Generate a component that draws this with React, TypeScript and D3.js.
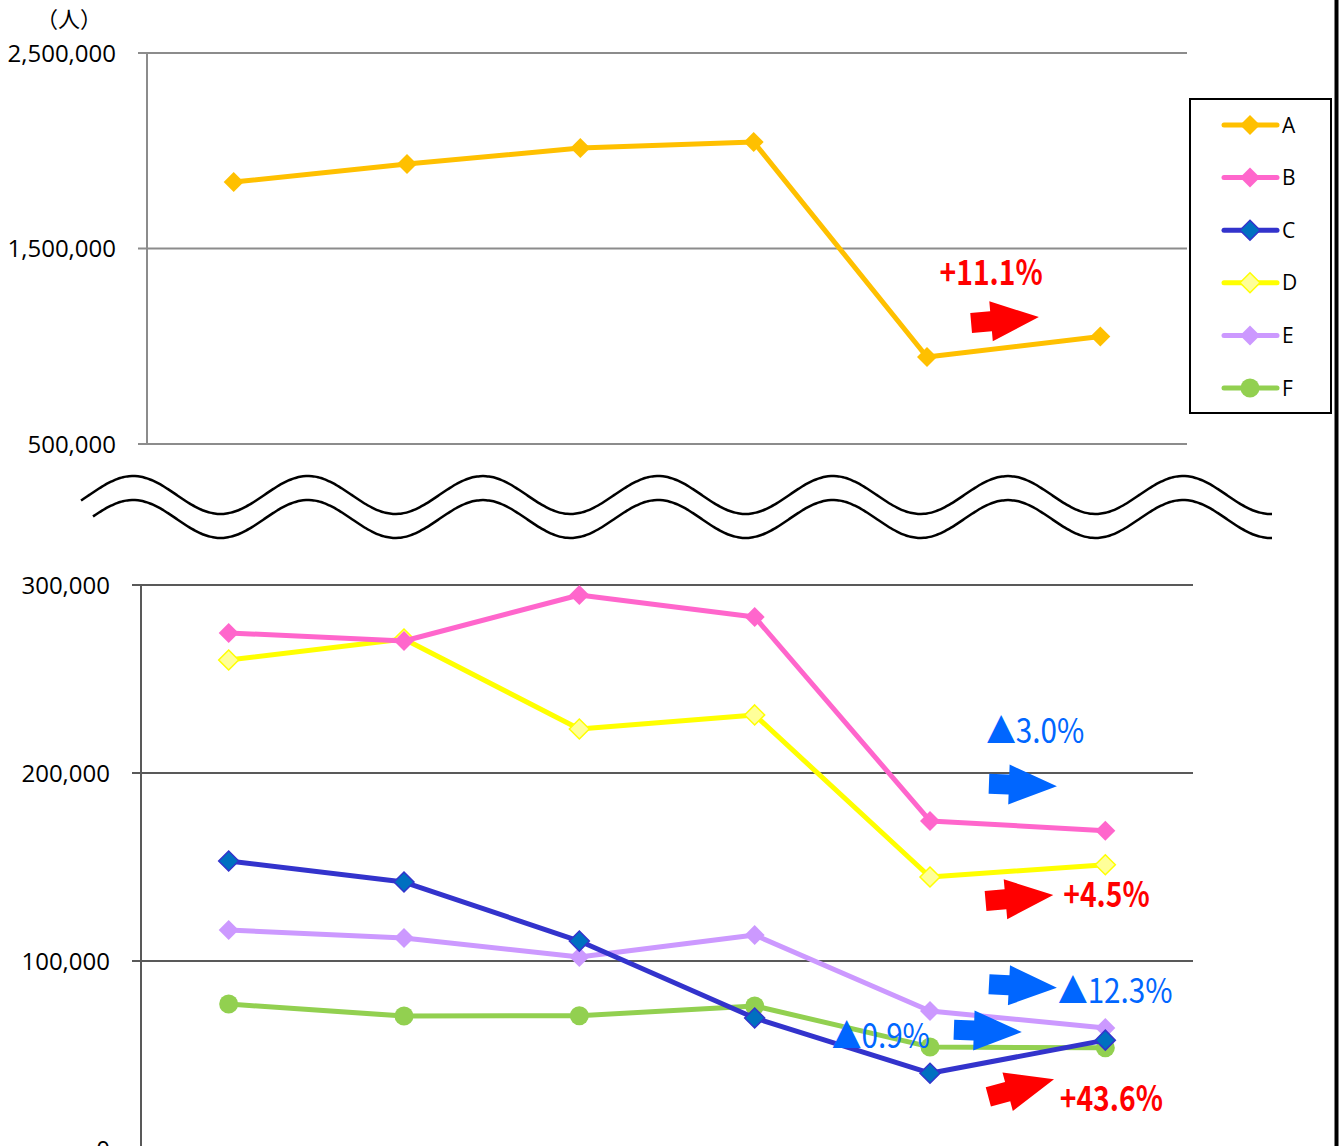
import React from "react";
import * as d3 from "d3";

// 年度ラベルは元図に無いので空のカテゴリで位置だけ持つ
const categories = ["1", "2", "3", "4", "5", "6"];

const seriesA = [1840000, 1932000, 2014000, 2045000, 945000, 1050000];
const seriesB = [274500, 270200, 294700, 283000, 174500, 169300];
const seriesC = [153200, 142000, 110600, 69700, 40300, 57900];
const seriesD = [260100, 271300, 223400, 230900, 144700, 151200];
const seriesE = [116500, 112200, 102100, 113800, 73400, 64400];
const seriesF = [77100, 70700, 70900, 76100, 54300, 53800];

const topTicks = [500000, 1500000, 2500000];
const bottomTicks = [0, 100000, 200000, 300000];

const seriesNames = ["A", "B", "C", "D", "E", "F"];

type Series = {
  name: string;
  values: number[];
  stroke: string;
  fill: string;
  markerStroke: string;
  shape: "diamond" | "circle";
};

const series: Series[] = [
  { name: "A", values: seriesA, stroke: "#FFC000", fill: "#FFC000", markerStroke: "#FFC000", shape: "diamond" },
  { name: "B", values: seriesB, stroke: "#FF66CC", fill: "#FF66CC", markerStroke: "#FF66CC", shape: "diamond" },
  { name: "C", values: seriesC, stroke: "#3333CC", fill: "#0070C0", markerStroke: "#3333CC", shape: "diamond" },
  { name: "D", values: seriesD, stroke: "#FFFF00", fill: "#FFFF99", markerStroke: "#FFFF00", shape: "diamond" },
  { name: "E", values: seriesE, stroke: "#CC99FF", fill: "#CC99FF", markerStroke: "#CC99FF", shape: "diamond" },
  { name: "F", values: seriesF, stroke: "#92D050", fill: "#92D050", markerStroke: "#92D050", shape: "circle" },
];

// annotations: pos = category index position, v = data value
const UP = "#FF0000";
const DOWN = "#0066FF";
const topNotes = [{ text: "+11.1%", pos: 4.37, v: 1313000, up: true, anchor: "middle" }];
const topArrows = [{ pos: 4.45, v: 1134000, angle: -5, up: true }];

const bottomNotes = [
  { text: "▲3.0%", pos: 4.6, v: 216000, up: false, anchor: "middle" },
  { text: "+4.5%", pos: 4.76, v: 128700, up: true, anchor: "start" },
  { text: "▲12.3%", pos: 4.73, v: 77700, up: false, anchor: "start" },
  { text: "▲0.9%", pos: 3.44, v: 53700, up: false, anchor: "start" },
  { text: "+43.6%", pos: 4.74, v: 20200, up: true, anchor: "start" },
];
const bottomArrows = [
  { pos: 4.53, v: 193600, angle: 2, up: false },
  { pos: 4.51, v: 133500, angle: -5, up: true },
  { pos: 4.53, v: 86700, angle: 3, up: false },
  { pos: 4.33, v: 62800, angle: 2, up: false },
  { pos: 4.52, v: 32400, angle: -15, up: true },
];

const W = 1341;
const H = 1146;
const font = "'Noto Sans CJK JP', 'Noto Sans', sans-serif";
const tickFont = "'Open Sans', 'Noto Sans', sans-serif";
const fmt = d3.format(",");

// block arrow pointing right, centred at origin
const arrowPath = "M-34,-10 L-14,-10 L-14,-20 L34,0 L-14,20 L-14,10 L-34,10 Z";

function Marker({ s, x, y }: { s: Series; x: number; y: number }) {
  if (s.shape === "circle") return <circle cx={x} cy={y} r={9.5} fill={s.fill} />;
  const r = 10;
  return (
    <path
      d={`M${x},${y - r} L${x + r},${y} L${x},${y + r} L${x - r},${y} Z`}
      fill={s.fill}
      stroke={s.markerStroke}
      strokeWidth={s.name === "C" || s.name === "D" ? 1.5 : 0}
    />
  );
}

function Note({ n, x, y }: { n: any; x: number; y: number }) {
  const sx = n.up ? 0.82 : 0.86;
  return (
    <text
      transform={`translate(${x},${y}) scale(${sx},1)`}
      textAnchor={n.anchor}
      fontSize={34.5}
      fontWeight={n.up ? 700 : 400}
      fill={n.up ? UP : DOWN}
    >
      {n.text}
    </text>
  );
}

export default function App() {
  const xTop = d3.scaleBand().domain(categories).range([147, 1187]);
  const yTop = d3.scaleLinear().domain([500000, 2500000]).range([444, 53]);
  const xBot = d3.scaleBand().domain(categories).range([141, 1193]);
  const yBot = d3.scaleLinear().domain([0, 300000]).range([1149, 585]);

  const cx = (sc: d3.ScaleBand<string>) => (i: number) => (sc(categories[i]) as number) + sc.bandwidth() / 2;
  const cxTop = cx(xTop);
  const cxBot = cx(xBot);
  const posTop = d3.scaleLinear().domain([0, 5]).range([cxTop(0), cxTop(5)]);
  const posBot = d3.scaleLinear().domain([0, 5]).range([cxBot(0), cxBot(5)]);

  const lineTop = d3.line<number>().x((_, i) => cxTop(i)).y((d) => yTop(d));
  const lineBot = d3.line<number>().x((_, i) => cxBot(i)).y((d) => yBot(d));

  // wavy break
  const waveX = d3.range(81, 1274, 3);
  const waveY = (x: number) => 495 - 19 * Math.cos((2 * Math.PI * (x - 133)) / 175);
  const waveLine = d3.line<number>().x((x) => x).y((x) => waveY(x)).curve(d3.curveBasis);
  const waveLow = d3.line<number>().x((x) => x).y((x) => waveY(x) + 24).curve(d3.curveBasis);
  const lowX = waveX.filter((x) => x >= 93);
  const waveFill =
    (waveLine(waveX) as string) +
    ` L1273,${waveY(1273) + 24} ` +
    (waveLow([...lowX].reverse()) as string).replace(/^M/, "L") +
    " Z";

  const topSeries = series.slice(0, 1);
  const botSeries = [series[4], series[5], series[2], series[3], series[1]];

  return (
    <svg width={W} height={H} style={{ position: "absolute", left: 0, top: 0, background: "#fff" }} fontFamily={font}>
      <rect width={W} height={H} fill="#fff" />
      <text x={69} y={27} fontSize={22} textAnchor="middle" fill="#000">（人）</text>

      {/* top panel */}
      {topTicks.map((t) => (
        <g key={t}>
          <line x1={138} x2={1187} y1={yTop(t)} y2={yTop(t)} stroke="#8C8C8C" strokeWidth={2} />
          <text x={116} y={yTop(t)} dy="0.36em" textAnchor="end" fontSize={24} fill="#000" fontFamily={tickFont}>
            {fmt(t)}
          </text>
        </g>
      ))}
      <line x1={147} x2={147} y1={53} y2={444} stroke="#8C8C8C" strokeWidth={2} />
      {topSeries.map((s) => (
        <g key={s.name}>
          <path d={lineTop(s.values) as string} fill="none" stroke={s.stroke} strokeWidth={5} strokeLinejoin="round" />
          {s.values.map((v, i) => (
            <Marker key={i} s={s} x={cxTop(i)} y={yTop(v)} />
          ))}
        </g>
      ))}
      {topArrows.map((a, i) => (
        <path key={i} d={arrowPath} fill={a.up ? UP : DOWN} transform={`translate(${posTop(a.pos)},${yTop(a.v)}) rotate(${a.angle})`} />
      ))}
      {topNotes.map((n, i) => (
        <Note key={i} n={n} x={posTop(n.pos)} y={yTop(n.v)} />
      ))}

      {/* legend */}
      <rect x={1190} y={99} width={141} height={314} fill="#fff" stroke="#000" strokeWidth={2} />
      {seriesNames.map((name, i) => {
        const s = series.find((d) => d.name === name) as Series;
        const y = 125 + i * 52.6;
        return (
          <g key={name}>
            <line x1={1224} x2={1277} y1={y} y2={y} stroke={s.stroke} strokeWidth={5} strokeLinecap="round" />
            <Marker s={s} x={1250} y={y} />
            <text x={1282} y={y} dy="0.36em" fontSize={21} fill="#000" fontFamily={tickFont}>{name}</text>
          </g>
        );
      })}

      {/* wavy break */}
      <path d={waveFill} fill="#fff" stroke="none" />
      <path d={waveLine(waveX) as string} fill="none" stroke="#000" strokeWidth={2.5} />
      <path d={waveLow(lowX) as string} fill="none" stroke="#000" strokeWidth={2.5} />

      {/* bottom panel */}
      {bottomTicks.map((t) => (
        <g key={t}>
          {t > 0 && <line x1={132} x2={1193} y1={yBot(t)} y2={yBot(t)} stroke="#595959" strokeWidth={2} />}
          <text x={110} y={yBot(t)} dy="0.36em" textAnchor="end" fontSize={24} fill="#000" fontFamily={tickFont}>
            {fmt(t)}
          </text>
        </g>
      ))}
      <line x1={141} x2={141} y1={585} y2={H} stroke="#595959" strokeWidth={2} />
      {botSeries.map((s) => (
        <g key={s.name}>
          <path d={lineBot(s.values) as string} fill="none" stroke={s.stroke} strokeWidth={5} strokeLinejoin="round" />
          {s.values.map((v, i) => (
            <Marker key={i} s={s} x={cxBot(i)} y={yBot(v)} />
          ))}
        </g>
      ))}
      {bottomArrows.map((a, i) => (
        <path key={i} d={arrowPath} fill={a.up ? UP : DOWN} transform={`translate(${posBot(a.pos)},${yBot(a.v)}) rotate(${a.angle})`} />
      ))}
      {bottomNotes.map((n, i) => (
        <Note key={i} n={n} x={posBot(n.pos)} y={yBot(n.v)} />
      ))}

      {/* right border */}
      <line x1={1336.5} x2={1336.5} y1={0} y2={H} stroke="#000" strokeWidth={4} />
    </svg>
  );
}
